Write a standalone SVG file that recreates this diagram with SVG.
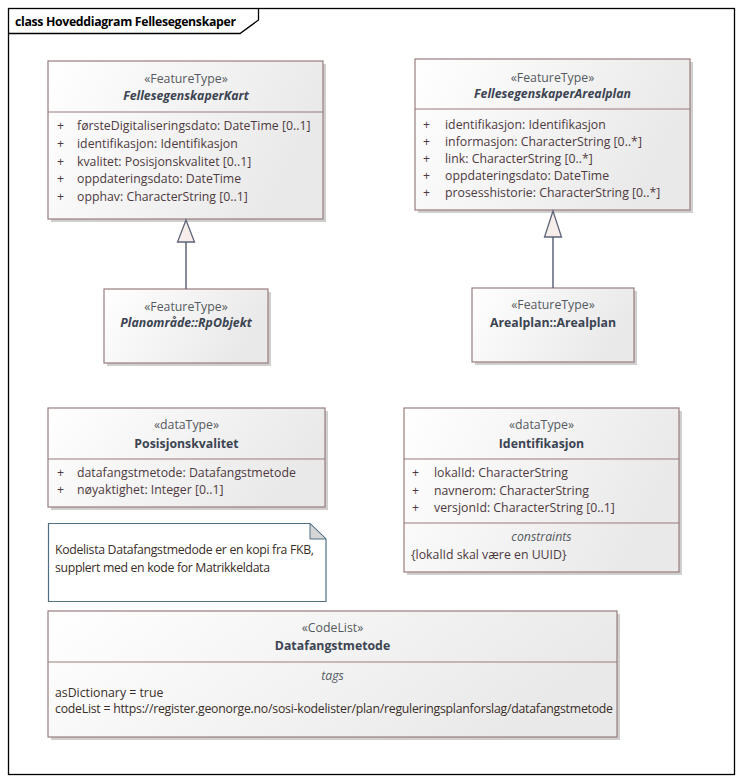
<svg xmlns="http://www.w3.org/2000/svg" width="742" height="782" viewBox="0 0 742 782">
<defs>
<linearGradient id="g" x1="0" y1="0" x2="1" y2="0.3">
<stop offset="0" stop-color="#ffffff"/>
<stop offset="1" stop-color="#e9e9e9"/>
</linearGradient>
<style>
text{font-family:"Open Sans","Liberation Sans",sans-serif;font-size:12.3px;}
.st{fill:#555a60;text-anchor:middle;}
.nm{fill:#3c4452;font-weight:bold;text-anchor:middle;}
.it{font-style:italic;}
.at{fill:#4e3a40;}
.box{fill:url(#g);stroke:#9a7d7d;stroke-width:1.2;}
.sh{fill:#cfcfcf;}
.dv{stroke:#9a7d7d;stroke-width:1.2;}
.cn{stroke:#5c6478;stroke-width:1.5;fill:none;}
.tri{fill:#f7eeeb;stroke:#5c6478;stroke-width:1.3;}
.nt{fill:#3a2e28;}
</style>
</defs>
<rect x="8.5" y="8.5" width="726" height="766" fill="#ffffff" stroke="#000" stroke-width="1.3"/>
<path d="M8.5,33.5 H240 L258.5,20 V8.5" fill="none" stroke="#000" stroke-width="1.3"/>
<text x="15" y="26" font-weight="bold" font-family="Liberation Sans" fill="#000" textLength="221">class Hoveddiagram Fellesegenskaper</text>

<g id="FellesegenskaperKart">
<rect class="sh" x="51" y="64" width="275" height="158"/>
<rect class="box" x="48" y="61" width="275" height="158"/>
<line class="dv" x1="48" y1="112" x2="323" y2="112"/>
<text class="st" x="186" y="83">«FeatureType»</text>
<text class="nm it" x="186" y="100">FellesegenskaperKart</text>
<g class="at">
<text x="57" y="130">+</text><text x="77" y="130">førsteDigitaliseringsdato: DateTime [0..1]</text>
<text x="57" y="148">+</text><text x="77" y="148">identifikasjon: Identifikasjon</text>
<text x="57" y="166">+</text><text x="77" y="166">kvalitet: Posisjonskvalitet [0..1]</text>
<text x="57" y="183">+</text><text x="77" y="183">oppdateringsdato: DateTime</text>
<text x="57" y="201">+</text><text x="77" y="201">opphav: CharacterString [0..1]</text>
</g>
</g>

<g id="FellesegenskaperArealplan">
<rect class="sh" x="418" y="62" width="275" height="151"/>
<rect class="box" x="415" y="59" width="275" height="151"/>
<line class="dv" x1="415" y1="109" x2="690" y2="109"/>
<text class="st" x="552.5" y="82">«FeatureType»</text>
<text class="nm it" x="552.5" y="98">FellesegenskaperArealplan</text>
<g class="at">
<text x="423" y="129">+</text><text x="445" y="129">identifikasjon: Identifikasjon</text>
<text x="423" y="146">+</text><text x="445" y="146">informasjon: CharacterString [0..*]</text>
<text x="423" y="163">+</text><text x="445" y="163">link: CharacterString [0..*]</text>
<text x="423" y="180">+</text><text x="445" y="180">oppdateringsdato: DateTime</text>
<text x="423" y="197">+</text><text x="445" y="197">prosesshistorie: CharacterString [0..*]</text>
</g>
</g>

<g id="RpObjekt">
<rect class="sh" x="107" y="292" width="164" height="74"/>
<rect class="box" x="104" y="289" width="164" height="74"/>
<text class="st" x="186" y="311">«FeatureType»</text>
<text class="nm it" x="186" y="327">Planområde::RpObjekt</text>
</g>

<g id="Arealplan">
<rect class="sh" x="475" y="291" width="162" height="74"/>
<rect class="box" x="472" y="288" width="162" height="74"/>
<text class="st" x="553" y="309">«FeatureType»</text>
<text class="nm" x="553" y="327">Arealplan::Arealplan</text>
</g>

<g id="Posisjonskvalitet">
<rect class="sh" x="51" y="411" width="277" height="99"/>
<rect class="box" x="48" y="408" width="277" height="99"/>
<line class="dv" x1="48" y1="459" x2="325" y2="459"/>
<text class="st" x="186.5" y="429">«dataType»</text>
<text class="nm" x="186.5" y="447.5">Posisjonskvalitet</text>
<g class="at">
<text x="57" y="477">+</text><text x="77" y="477">datafangstmetode: Datafangstmetode</text>
<text x="57" y="494">+</text><text x="77" y="494">nøyaktighet: Integer [0..1]</text>
</g>
</g>

<g id="Identifikasjon">
<rect class="sh" x="407" y="411" width="275" height="164"/>
<rect class="box" x="404" y="408" width="275" height="164"/>
<line class="dv" x1="404" y1="459" x2="679" y2="459"/>
<line class="dv" x1="404" y1="523" x2="679" y2="523"/>
<text class="st" x="541.5" y="429">«dataType»</text>
<text class="nm" x="541.5" y="447.5">Identifikasjon</text>
<g class="at">
<text x="412" y="477">+</text><text x="434" y="477">lokalId: CharacterString</text>
<text x="412" y="494.5">+</text><text x="434" y="494.5">navnerom: CharacterString</text>
<text x="412" y="511.5">+</text><text x="434" y="511.5">versjonId: CharacterString [0..1]</text>
</g>
<text class="st it" x="541.5" y="541">constraints</text>
<text class="at" x="411" y="559">{lokalId skal være en UUID}</text>
</g>

<g id="Note">
<path d="M48.5,523.5 H310 L326,539 V601.5 H48.5 Z" fill="#ffffff" stroke="#4e7085" stroke-width="1.2"/>
<path d="M310,523.5 V539 H326 Z" fill="#d6d6d6" stroke="#4e7085" stroke-width="1"/>
<text class="nt" x="55" y="554" textLength="259">Kodelista Datafangstmedode er en kopi fra FKB,</text>
<text class="nt" x="55" y="572" textLength="215">supplert med en kode for Matrikkeldata</text>
</g>

<g id="Datafangstmetode">
<rect class="sh" x="51" y="614" width="569" height="126"/>
<rect class="box" x="48" y="611" width="569" height="126"/>
<line class="dv" x1="48" y1="662" x2="617" y2="662"/>
<text class="st" x="332.5" y="632">«CodeList»</text>
<text class="nm" x="332.5" y="650">Datafangstmetode</text>
<text class="st it" x="332.5" y="680">tags</text>
<text class="nt" x="55" y="697">asDictionary = true</text>
<text class="nt" x="55" y="713" textLength="558">codeList = https://register.geonorge.no/sosi-kodelister/plan/reguleringsplanforslag/datafangstmetode</text>
</g>

<g id="connectors">
<line class="cn" x1="186" y1="242" x2="186" y2="289"/>
<path class="tri" d="M186,220 L177.5,242 H194.5 Z"/>
<line class="cn" x1="553" y1="237" x2="553" y2="288"/>
<path class="tri" d="M553,211 L544.5,237 H561.5 Z"/>
</g>
</svg>
